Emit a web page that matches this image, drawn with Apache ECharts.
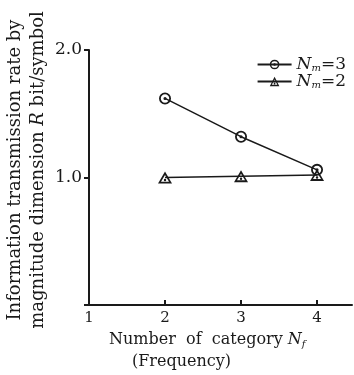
<!DOCTYPE html>
<html>
<head>
<meta charset="utf-8">
<script src="https://cdn.jsdelivr.net/npm/echarts@6/dist/echarts.min.js"></script>
<style>
  html, body { margin: 0; padding: 0; background: #fff; }
  #chart { width: 354px; height: 375px; }
</style>
</head>
<body>
<div id="chart"></div>
<script>
// data
const categories = [2, 3, 4]
const nm3Values = [1.62, 1.32, 1.06]
const nm2Values = [1.00, 1.01, 1.02]
const seriesNames = ['Nm=3', 'Nm=2']
const xTickLabels = [1, 2, 3, 4]
const yTickLabels = [1, 2]

const FONT = 'DejaVu Serif'
const INK = '#1a1a1a'

// circle with a dot inside / triangle with a dot inside
const circleDot = 'path://M0,-10A10,10,0,1,1,0,10A10,10,0,1,1,0,-10Z' +
  'M0,-7A7,7,0,1,0,0,7A7,7,0,1,0,0,-7Z' +
  'M0,-2.6A2.6,2.6,0,1,1,0,2.6A2.6,2.6,0,1,1,0,-2.6Z'
const triDot = 'path://M0,-10L11,8L-11,8Z' +
  'M0,-4.6L-6.3,5.2L6.3,5.2Z' +
  'M0,0.8A1.9,1.9,0,1,1,0,4.6A1.9,1.9,0,1,1,0,0.8Z'

const toPoints = vals => categories.map((c, i) => [c, vals[i]])

const chart = echarts.init(document.getElementById('chart'))

const option = {
  backgroundColor: '#fff',
  animation: false,
  grid: { left: 89, top: 50, right: 2, bottom: 70 },
  legend: {
    orient: 'vertical',
    right: 3,
    top: 51,
    itemWidth: 34,
    itemHeight: 12,
    itemGap: 0,
    data: seriesNames,
    formatter: name => '{i|N}{s|m}{t|=' + name.split('=')[1] + '}',
    textStyle: {
      color: INK,
      rich: {
        i: { fontFamily: FONT, fontStyle: 'italic', fontSize: 17, color: INK, lineHeight: 20 },
        s: { fontFamily: FONT, fontStyle: 'italic', fontSize: 10, color: INK, padding: [7, 0, 0, 0], lineHeight: 20 },
        t: { fontFamily: FONT, fontSize: 17, color: INK, lineHeight: 20 }
      }
    }
  },
  xAxis: {
    type: 'value',
    min: 1,
    max: 4.46,
    interval: 1,
    axisLine: { lineStyle: { color: INK, width: 2 } },
    axisTick: { show: true, inside: true, length: 5, lineStyle: { color: INK, width: 2 } },
    axisLabel: {
      showMaxLabel: false,
      formatter: v => (xTickLabels.includes(v) ? String(v) : ''),
      margin: 6, color: INK, fontFamily: FONT, fontSize: 15
    },
    splitLine: { show: false }
  },
  yAxis: {
    type: 'value',
    min: 0,
    max: 2,
    interval: 1,
    axisLine: { show: true, lineStyle: { color: INK, width: 2 } },
    axisTick: { show: true, length: 5, lineStyle: { color: INK, width: 2 } },
    axisLabel: {
      formatter: v => (yTickLabels.includes(v) ? v.toFixed(1) : ''),
      margin: 7, color: INK, fontFamily: FONT, fontSize: 17
    },
    splitLine: { show: false }
  },
  series: [
    {
      name: seriesNames[0],
      type: 'line',
      data: toPoints(nm3Values),
      symbol: circleDot,
      symbolSize: 12,
      color: INK,
      itemStyle: { color: INK, borderWidth: 0 },
      lineStyle: { color: INK, width: 1.5 },
      z: 3
    },
    {
      name: seriesNames[1],
      type: 'line',
      data: toPoints(nm2Values),
      symbol: triDot,
      symbolSize: [14, 12],
      color: INK,
      itemStyle: { color: INK, borderWidth: 0 },
      lineStyle: { color: INK, width: 1.5 },
      z: 2
    }
  ],
  graphic: [
    {
      // y axis title, two lines rotated
      type: 'text',
      x: 27,
      y: 170,
      rotation: Math.PI / 2,
      style: {
        text: '{n|Information transmission rate by}\n{n|magnitude dimension }{i|R}{n| bit/symbol}',
        align: 'center',
        verticalAlign: 'middle',
        fill: INK,
        rich: {
          n: { fontFamily: FONT, fontSize: 18, lineHeight: 23, fill: INK },
          i: { fontFamily: FONT, fontSize: 18, lineHeight: 23, fontStyle: 'italic', fill: INK }
        }
      }
    },
    {
      type: 'text',
      left: 109,
      top: 332,
      style: {
        text: '{n|Number  of  category }{i|N}{s|f}',
        fill: INK,
        rich: {
          n: { fontFamily: FONT, fontSize: 16, fill: INK },
          i: { fontFamily: FONT, fontSize: 16, fontStyle: 'italic', fill: INK },
          s: { fontFamily: FONT, fontSize: 10, fontStyle: 'italic', fill: INK, padding: [8, 0, 0, 0] }
        }
      }
    },
    {
      type: 'text',
      left: 132,
      top: 354,
      style: {
        text: '(Frequency)',
        fill: INK,
        font: '16px "DejaVu Serif"'
      }
    }
  ]
}

chart.setOption(option)
</script>
</body>
</html>
